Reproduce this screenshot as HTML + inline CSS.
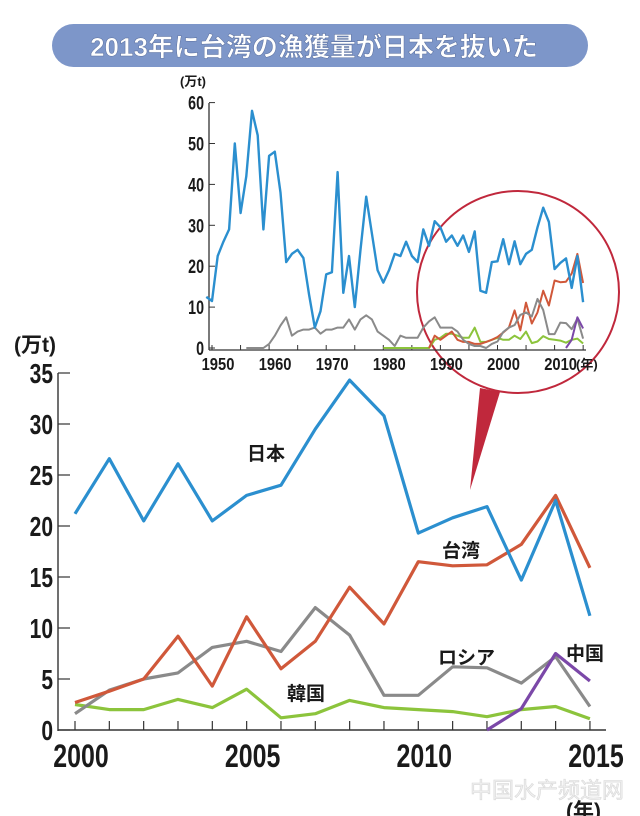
<!DOCTYPE html>
<html><head><meta charset="utf-8"><style>
body{margin:0;background:#fff;width:640px;height:816px;overflow:hidden}
svg{display:block}
.n{font-family:"Liberation Sans",sans-serif;font-weight:bold;fill:#1a1a1a}
.j{font-family:"Liberation Sans","Noto Sans CJK JP",sans-serif;font-weight:bold;fill:#1a1a1a}
</style></head><body>
<svg id="s" width="640" height="816" viewBox="0 0 640 816" xmlns="http://www.w3.org/2000/svg">
<rect x="52" y="24" width="536" height="43" rx="21.5" fill="#7d96c9"/>
<text x="314" y="56" text-anchor="middle" font-family="Liberation Sans,Noto Sans CJK JP,sans-serif" font-size="26" font-weight="bold" fill="#fff" stroke="#5a6f9e" stroke-width="0.5">2013年に台湾の漁獲量が日本を抜いた</text>
<g id="inset"></g>
<g id="main"></g>
<text x="470" y="798" font-family="Liberation Sans,Noto Sans CJK SC,sans-serif" font-size="22" fill="#f0f0f0" stroke="#d8d8d8" stroke-width="0.6">中国水产频道网</text>
</svg>
<script>
const NS="http://www.w3.org/2000/svg";
function el(p,t,a,txt){const e=document.createElementNS(NS,t);for(const k in a)e.setAttribute(k,a[k]);if(txt!=null)e.textContent=txt;p.appendChild(e);return e;}
function nt(p,x,y,s,sx,anchor,txt){const gg=el(p,"g",{transform:`translate(${x},${y}) scale(${sx},1)`});el(gg,"text",{x:0,y:0,"text-anchor":anchor,"font-size":s,class:"n"},txt);}
const C={jp:"#2b8fcf",tw:"#d0583a",ru:"#8a8a8a",kr:"#8cc43c",cn:"#7b48a8"};
const M={
jp:[21.2,26.6,20.5,26.1,20.5,23,24,29.5,34.3,30.8,19.3,20.8,21.9,14.7,22.5,11.2],
tw:[2.7,3.8,5,9.2,4.3,11.1,6,8.7,14,10.4,16.5,16.1,16.2,18.2,23,15.9],
ru:[1.6,3.9,5,5.6,8.1,8.7,7.7,12,9.3,3.4,3.4,6.2,6.1,4.6,7.2,2.3],
kr:[2.5,2,2,3,2.2,4,1.2,1.6,2.9,2.2,2,1.8,1.3,2,2.3,1.1]};
const g=document.getElementById("inset");
const ix=y=>212+(y-1950)*5.71, iy=v=>348-v*4.09;
el(g,"circle",{cx:518,cy:292,r:101,fill:"none",stroke:"#c0283c","stroke-width":2});
el(g,"polygon",{points:"480,388 500,392 470,490",fill:"#c0283c"});
el(g,"line",{x1:209,y1:103,x2:209,y2:350,stroke:"#333","stroke-width":1.3});
el(g,"line",{x1:209,y1:350,x2:586,y2:350,stroke:"#333","stroke-width":1.3});
for(let v=0;v<=60;v+=10){el(g,"line",{x1:209,y1:iy(v),x2:215,y2:iy(v),stroke:"#333"});nt(g,204,iy(v)+7,19,0.75,"end",v);}
for(let y=1950;y<=2015;y+=5){el(g,"line",{x1:ix(y),y1:350,x2:ix(y),y2:345,stroke:"#333"});}
for(let y=1950;y<=2010;y+=10){nt(g,ix(y)+6,370,18,0.82,"middle",y);}
el(g,"text",{x:576,y:369,"font-size":13,class:"j"},"(年)");
el(g,"text",{x:180,y:86,"font-size":13,class:"j"},"(万t)");
const jpI=[12.5,11.5,22.5,26,29,50,33,42,58,52,29,47,48,38,21,23,24,22,13,5,9,18,18.5,43,13.5,22.5,10,24,37,28,19,16,19,23,22.5,26,22.5,21,29,25,31,29.5,26,27.5,25,27.5,23.5,28.5,14,13.5,21];
const ruI=[0,0,0,0,1,3,5.5,7.5,3,4,4.5,4.5,5,3.5,4.5,4.5,5,5,7,4.5,7,8,7,4,3,2,0.5,3,2.5,2.5,2.5,5,6.5,7.5,5,5,5,4,2,1,0.5,0.5,0,1];
const twI=[0,3,2,3,4,2,1.5,1.5,1,1,1.5,2];
const krI=[0,0,0,0,0,0,0,0,0,2,2.5,3.5,3.5,3,2.5,2.5,5,1.5,1.5,2];
function ipl(start,arr,c,w){const pts=arr.map((v,i)=>ix(start+i).toFixed(1)+","+iy(v).toFixed(1)).join(" ");el(g,"polyline",{points:pts,fill:"none",stroke:c,"stroke-width":w,"stroke-linejoin":"round"});}
ipl(1980,krI.concat(M.kr),C.kr,2);
ipl(1988,twI.concat(M.tw),C.tw,2);
ipl(1956,ruI.concat(M.ru),C.ru,2);
ipl(2012,[0,2,7.5,4.8],C.cn,2);
ipl(1949,jpI.concat(M.jp),C.jp,2.4);
const m=document.getElementById("main");
const mx=y=>75+(y-2000)*34.33, my=v=>730-v*10.2;
el(m,"line",{x1:58,y1:373,x2:58,y2:731,stroke:"#333","stroke-width":1.4});
el(m,"line",{x1:58,y1:730,x2:606,y2:730,stroke:"#333","stroke-width":1.4});
for(let v=0;v<=35;v+=5){el(m,"line",{x1:58,y1:my(v),x2:70,y2:my(v),stroke:"#333","stroke-width":1.2});nt(m,53,my(v)+10,28,0.75,"end",v);}
for(let y=2000;y<=2015;y++){el(m,"line",{x1:mx(y),y1:730,x2:mx(y),y2:721,stroke:"#333","stroke-width":1.2});}
for(let y=2000;y<=2015;y+=5){nt(m,mx(y)+6,767,32,0.78,"middle",y);}
el(m,"text",{x:14,y:352,"font-size":21,class:"j"},"(万t)");
el(m,"text",{x:566,y:818,"font-size":21,class:"j"},"(年)");
function mpl(start,arr,c){const pts=arr.map((v,i)=>mx(start+i).toFixed(1)+","+my(v).toFixed(1)).join(" ");el(m,"polyline",{points:pts,fill:"none",stroke:c,"stroke-width":3.2,"stroke-linejoin":"round"});}
mpl(2000,M.kr,C.kr);mpl(2000,M.ru,C.ru);mpl(2012,[0,2.1,7.5,4.8],C.cn);mpl(2000,M.tw,C.tw);mpl(2000,M.jp,C.jp);
el(m,"text",{x:247,y:460,"font-size":19,class:"j"},"日本");
el(m,"text",{x:442,y:557,"font-size":19,class:"j"},"台湾");
el(m,"text",{x:438,y:664,"font-size":19,class:"j"},"ロシア");
el(m,"text",{x:566,y:660,"font-size":19,class:"j"},"中国");
el(m,"text",{x:287,y:700,"font-size":19,class:"j"},"韓国");
</script>
</body></html>
